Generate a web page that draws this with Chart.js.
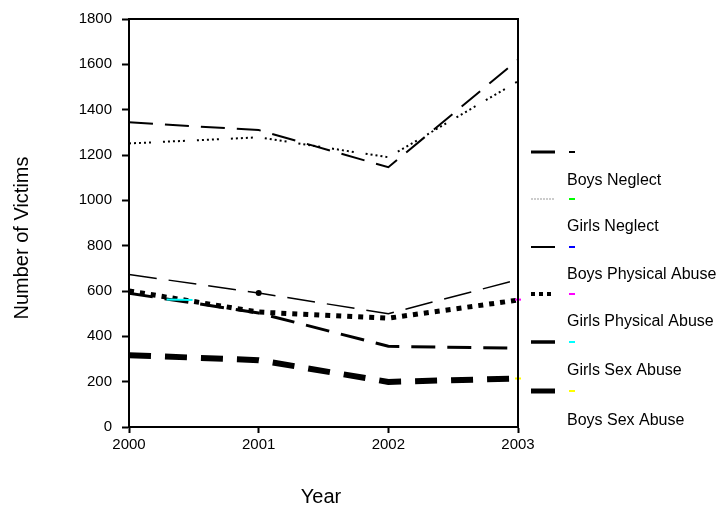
<!DOCTYPE html>
<html>
<head>
<meta charset="utf-8">
<script src="https://cdn.jsdelivr.net/npm/chart.js@4/dist/chart.umd.min.js"></script>
<style>
  html, body { margin: 0; padding: 0; background: #fff; }
  #wrap { width: 716px; height: 506px; }
</style>
</head>
<body>
<div id="wrap"><canvas id="lineChart" width="716" height="506"></canvas></div>
<script>
// values
const years = [2000, 2001, 2002, 2003];
const yTicks = [0, 200, 400, 600, 800, 1000, 1200, 1400, 1600, 1800];

const topDashed = [1344, 1310, 1146, 1620];
const topDotted = [1251, 1278, 1190, 1525];
const thinDashed = [673, 591, 500, 650];
const squareDotted = [600, 507, 480, 560];
const midDashed = [590, 503, 356, 348];
const thickDashed = [317, 295, 199, 214];

// stray coloured marks left in the plot
const cyanMark = [{ x: 2000.29, y: 562 }, { x: 2000.49, y: 560 }];
const magentaMark = [{ x: 2003, y: 562 }];
const yellowMark = [{ x: 2003, y: 214 }];

const xTitle = 'Year';
const yTitle = 'Number of Victims';
const legendLabels = ['Boys Neglect', 'Girls Neglect', 'Boys Physical Abuse',
  'Girls Physical Abuse', 'Girls Sex Abuse', 'Boys Sex Abuse'];
const legendMarkColors = ['#000000', '#00ff00', '#0000ff', '#ff00ff', '#00ffff', '#ffff00'];

const FONT = "'Liberation Sans', Arial, sans-serif";

const pts = (vals) => vals.map((v, i) => ({ x: years[i], y: v }));

const lineDs = (vals, width, dash, extra) => Object.assign({
  data: pts(vals),
  borderColor: '#000',
  borderWidth: width,
  borderDash: dash,
  borderCapStyle: 'butt',
  pointRadius: 0,
  tension: 0,
  fill: false,
}, extra || {});

const tickMark = (data, color) => ({
  data: data,
  showLine: false,
  pointStyle: 'line',
  pointRadius: 3,
  borderColor: color,
  pointBorderWidth: 2,
  clip: false,
  order: -1,
});

// frame on top / right, axis titles, custom legend
const framePlugin = {
  id: 'frame',
  afterDraw(chart) {
    const { ctx, chartArea: a } = chart;
    ctx.save();
    ctx.strokeStyle = '#000';
    ctx.lineWidth = 2;
    ctx.beginPath();
    ctx.moveTo(a.left, a.top);
    ctx.lineTo(a.right, a.top);
    ctx.lineTo(a.right, a.bottom);
    ctx.stroke();

    // axis titles (the originals sit off-centre)
    ctx.fillStyle = '#000';
    ctx.font = '20px ' + FONT;
    ctx.textAlign = 'center';
    ctx.textBaseline = 'alphabetic';
    ctx.fillText(xTitle, 321, 503);
    ctx.save();
    ctx.translate(28, 238);
    ctx.rotate(-Math.PI / 2);
    ctx.fillText(yTitle, 0, 0);
    ctx.restore();

    // legend: samples sit between the labels
    const sampleY = [152, 199, 247, 294, 342, 391];
    const labelY = [181, 227, 275, 322, 371, 421];
    const styles = [
      { w: 3, dash: [], color: '#000' },
      { w: 1, dash: [2, 1], color: '#999' },
      { w: 2, dash: [], color: '#000' },
      { w: 4, dash: [4, 4], color: '#000' },
      { w: 3.5, dash: [], color: '#000' },
      { w: 5, dash: [], color: '#000' },
    ];
    sampleY.forEach((y, i) => {
      const s = styles[i];
      ctx.setLineDash(s.dash);
      ctx.lineWidth = s.w;
      ctx.strokeStyle = s.color;
      ctx.beginPath();
      ctx.moveTo(531, y);
      ctx.lineTo(555, y);
      ctx.stroke();
      ctx.setLineDash([]);
      ctx.lineWidth = 2;
      ctx.strokeStyle = legendMarkColors[i];
      ctx.beginPath();
      ctx.moveTo(569, y);
      ctx.lineTo(575, y);
      ctx.stroke();
    });
    ctx.font = '16px ' + FONT;
    ctx.textBaseline = 'middle';
    ctx.textAlign = 'left';
    legendLabels.forEach((t, i) => ctx.fillText(t, 567, labelY[i]));
    ctx.restore();
  }
};

new Chart(document.getElementById('lineChart'), {
  type: 'line',
  data: {
    datasets: [
      lineDs(topDashed, 2, [24, 12]),
      lineDs(topDotted, 2, [2, 3, 2, 3, 2, 3, 2, 3, 2, 12]),
      lineDs(thinDashed, 1.5, [28, 12], { pointRadius: [0, 3, 0, 0], pointBackgroundColor: '#000', pointBorderWidth: 0 }),
      lineDs(squareDotted, 5, [5, 6]),
      lineDs(midDashed, 3, [24, 12]),
      lineDs(thickDashed, 6, [22, 14]),
      { data: cyanMark, borderColor: '#00ffff', borderWidth: 2, pointRadius: 0, tension: 0, fill: false, order: -1 },
      tickMark(magentaMark, '#ff00ff'),
      tickMark(yellowMark, '#ffff00'),
    ]
  },
  options: {
    responsive: false,
    animation: false,
    devicePixelRatio: 1,
    layout: { padding: { top: 19, right: 198, bottom: 0, left: 0 } },
    plugins: { legend: { display: false }, tooltip: { enabled: false } },
    scales: {
      x: {
        type: 'linear',
        min: 2000,
        max: 2003,
        afterFit(scale) { scale.height = 79; },
        afterBuildTicks(scale) { scale.ticks = years.map(v => ({ value: v })); },
        grid: { drawOnChartArea: false, drawTicks: true, tickLength: 6, color: '#000', tickWidth: 2 },
        border: { display: true, color: '#000', width: 2 },
        ticks: { color: '#000', font: { family: FONT, size: 15 }, padding: 3, callback: v => String(v) }
      },
      y: {
        min: 0,
        max: 1800,
        afterFit(scale) { scale.width = 129; },
        afterBuildTicks(scale) { scale.ticks = yTicks.map(v => ({ value: v })); },
        grid: { drawOnChartArea: false, drawTicks: true, tickLength: 7, color: '#000', tickWidth: 2 },
        border: { display: true, color: '#000', width: 2 },
        ticks: { color: '#000', font: { family: FONT, size: 15 }, padding: 10, callback: v => String(v) }
      }
    }
  },
  plugins: [framePlugin]
});
</script>
</body>
</html>
